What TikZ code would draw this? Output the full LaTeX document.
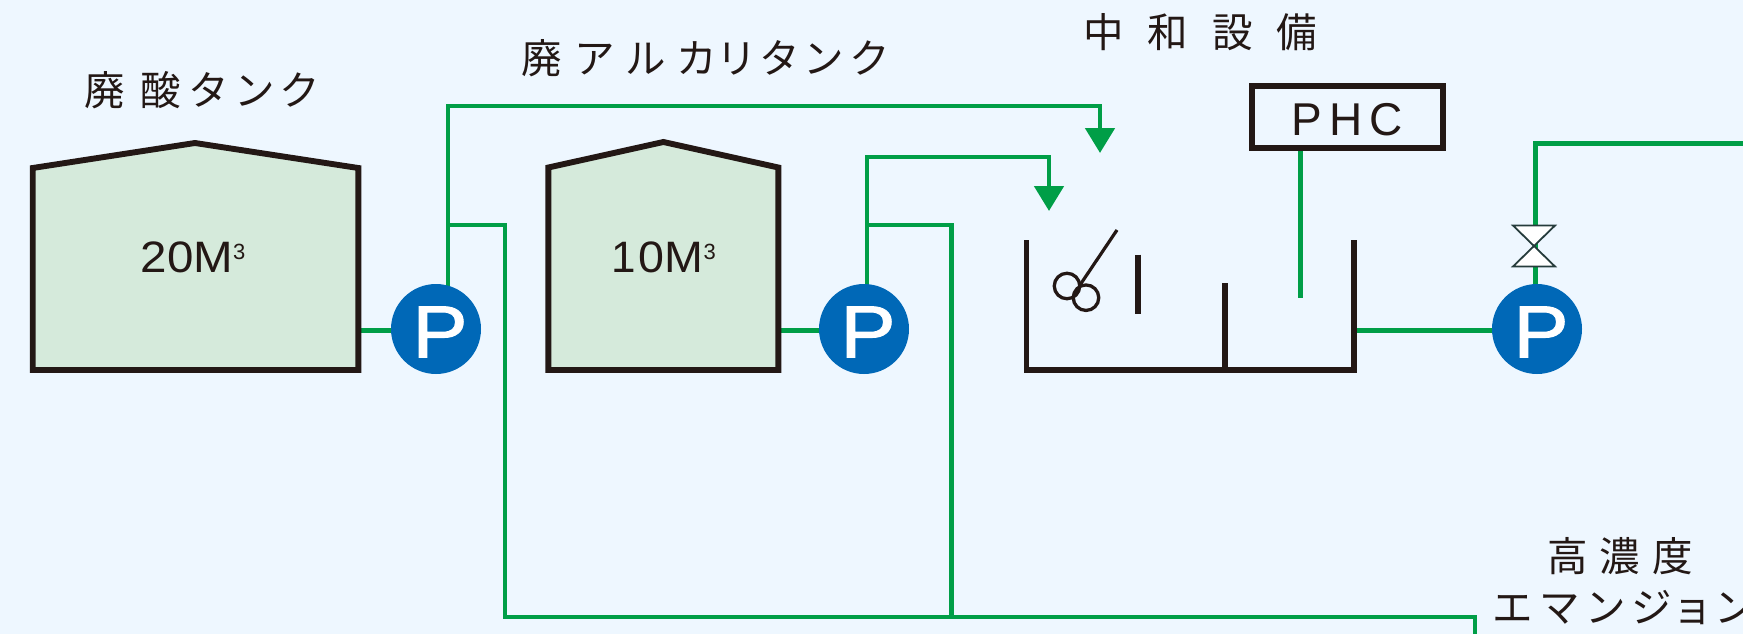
\documentclass[tikz,border=0pt]{standalone}
\usepackage{fontspec}
\setmainfont{Liberation Sans}
\newfontfamily\cjk{Noto Sans CJK JP}
\newfontfamily\pfont[AutoFakeBold=1.2]{Liberation Sans}
\usetikzlibrary{arrows.meta,backgrounds}
\definecolor{bgc}{HTML}{EEF7FF}
\definecolor{inkc}{HTML}{231815}
\definecolor{pipec}{HTML}{009E47}
\definecolor{tankc}{HTML}{D5EADB}
\definecolor{pumpc}{HTML}{0068B7}
\definecolor{valvec}{HTML}{263C3C}
\tikzset{
  pipe/.style={draw=pipec,line width=4.9pt},
  feed/.style={pipe,-{Triangle[length=25pt,width=29pt,color=pipec]}},
  tankwall/.style={draw=inkc,line width=5.9pt,miter limit=10},
  tank/.style={tankwall,fill=tankc},
  pump/.style={circle,fill=pumpc,minimum size=90pt,inner sep=0pt,
    label={[font=\pfont\bfseries\fontsize{74pt}{74pt}\selectfont,text=white,inner sep=0pt,xshift=4pt,yshift=-3pt]center:\scalebox{1.12}[1]{P}}},
  vol/.style={font=\fontsize{44pt}{44pt}\selectfont,text=inkc,inner sep=0pt},
  captext/.style={font=\cjk\fontsize{40.5pt}{40pt}\selectfont,text=inkc,inner sep=0pt,anchor=base west},
  stir/.style={circle,draw=inkc,line width=3.3pt,minimum size=25.5pt,inner sep=0pt},
  valvepart/.style={draw=valvec,line width=1.8pt,fill=white,miter limit=4,line join=miter},
}
\newcommand{\cubed}{\raisebox{13pt}{\fontsize{22pt}{22pt}\selectfont 3}}
\begin{document}
\begin{tikzpicture}[x=1pt,y=-1pt]
\useasboundingbox (0,0) rectangle (1743,634);
\clip (0,0) rectangle (1743,634);
% pumps
\node[pump] (p1) at (436,329) {};
\node[pump] (p2) at (864,329) {};
\node[pump] (p3) at (1537,329) {};
% tanks
\draw[tank] (32.7,168) -- (195,143) -- (358.3,168) -- (358.3,370) -- (32.7,370) -- cycle;
\draw[tank] (548.4,167.5) -- (663.4,142) -- (778.3,167.5) -- (778.3,370) -- (548.4,370) -- cycle;
\node[vol] (v1) at (193,257) {\scalebox{1.08}[1]{20M}\cubed};
\node[vol] (v2) at (663.5,257) {1\kern3pt\scalebox{1.06}[1]{0M}\cubed};
% neutraliser
\draw[tankwall] (1026.5,240) -- (1026.5,370) -- (1354,370) -- (1354,240);
\draw[tankwall] (1225,283) -- (1225,370);
\draw[tankwall] (1138,254.5) -- (1138,314);
\node[stir] (s1) at (1067,286) {};
\node[stir] (s2) at (1086,297.7) {};
\coordinate (shaft) at (1117,230);
\coordinate (hub) at (1080,285);
\draw[draw=inkc,line width=3.2pt] (shaft) -- (hub);
% PHC
\node[draw=inkc,line width=5.9pt,minimum width=191pt,minimum height=61.5pt,inner sep=0pt,
  font=\fontsize{46pt}{46pt}\selectfont,text=inkc,text height=37pt,text depth=0pt] (phc) at (1347.5,116.8) {P\kern7ptH\kern7ptC};
\coordinate (phcend) at (1300.7,297.7);
% captions
\node[captext] (c1) at (84.5,106) {廃\kern15pt酸\kern8ptタ\kern5ptン\kern5ptク};
\node[captext] (c2) at (521.5,73.5) {廃\kern12ptア\kern11ptル\kern10ptカ\kern0ptリ\kern2ptタ\kern4ptン\kern5ptク};
\node[captext] (c3) at (1083,48) {中\kern24pt和\kern24pt設\kern24pt備};
\node[captext] (c4) at (1547,571.5) {高\kern12pt濃\kern12pt度};
\node[captext] (c5) at (1492,622) {エ\kern7ptマ\kern5ptン\kern6ptジ\kern0ptョ\kern2ptン};
% valve
\coordinate (vc) at (1534,246);
\draw[valvepart] (1513,225.5) -- (1555,225.5) -- (vc) -- cycle;
\draw[valvepart] (1513,266.5) -- (1555,266.5) -- (vc) -- cycle;
% connectors
\coordinate (t1r) at (361,330.7);
\coordinate (t2r) at (781,330.7);
\coordinate (t3r) at (1356.7,330.7);
\coordinate (a1) at (448,106);
\coordinate (a2) at (867,157);
\coordinate (b1) at (448,225);
\coordinate (b2) at (867,225);
\coordinate (tip1) at (1100,153);
\coordinate (tip2) at (1049,211);
\coordinate (bus1) at (505,617);
\coordinate (bus2) at (951.5,617);
\coordinate (bus3) at (1475,617);
\coordinate (busend) at (1475,640);
\coordinate (out) at (1750,143.7);
\begin{scope}[on background layer]
\fill[bgc] (0,0) rectangle (1743,634);
\draw[pipe] (t1r) -- (p1.center |- t1r);
\draw[pipe] (t2r) -- (p2.center |- t2r);
\draw[pipe] (t3r) -- (p3.center |- t3r);
\draw[feed] (448,329) -- (a1) -| (tip1);
\draw[feed] (867,329) -- (a2) -| (tip2);
\draw[pipe] (b1) -| (bus1) -- (bus3) -- (busend);
\draw[pipe] (b2) -| (bus2);
\draw[pipe] (phc.south -| phcend) -- (phcend);
\draw[pipe] (1535.3,329) -- (1535.3,143.7) -- (out);
\end{scope}
\end{tikzpicture}
\end{document}
